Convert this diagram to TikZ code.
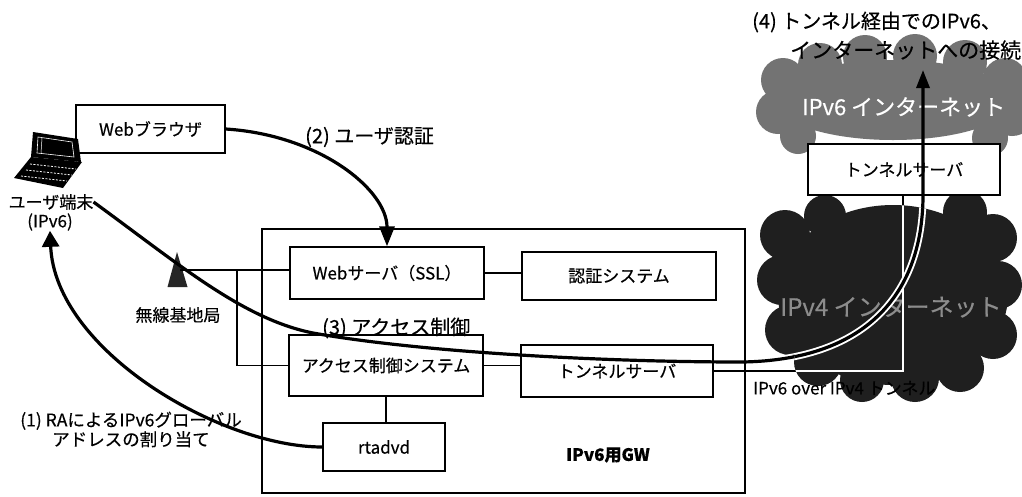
\documentclass[tikz,border=0pt]{standalone}
\usepackage{fontspec}
\setmainfont{Noto Sans CJK JP}[FakeBold=0.4]
\usetikzlibrary{arrows.meta}
\newcommand\bxfont{\fontsize{17}{20}\selectfont}
\newcommand\lbfont{\fontsize{20}{23}\selectfont}
% cloud outlines (unions of circles)
\newcommand\cloudsix{(893,100) ellipse [x radius=120pt, y radius=40pt]
  (783,80) circle[radius=22pt] (778,112) circle[radius=22pt] (798,136) circle[radius=18pt]
  (820,65) circle[radius=22pt] (865,57) circle[radius=22pt] (915,56) circle[radius=22pt]
  (965,62) circle[radius=22pt] (1005,80) circle[radius=22pt] (1012,112) circle[radius=24pt]
  (990,138) circle[radius=18pt]}
\newcommand\cloudfour{(893,295) ellipse [x radius=115pt, y radius=90pt]
  (785,235) circle[radius=25pt] (782,280) circle[radius=25pt] (790,330) circle[radius=25pt]
  (818,362) circle[radius=24pt] (862,380) circle[radius=22pt] (915,378) circle[radius=24pt]
  (960,368) circle[radius=24pt] (993,335) circle[radius=24pt] (998,285) circle[radius=24pt]
  (993,238) circle[radius=24pt] (965,212) circle[radius=22pt] (825,216) circle[radius=21pt]}
\begin{document}
\begin{tikzpicture}[x=1pt,y=-1pt,
  every node/.style={inner sep=1pt},
  box/.style={draw, line width=1.3pt, fill=white, font=\bxfont, inner sep=0pt},
  wire/.style={line width=1.3pt},
  flow/.style={line width=3.2pt},
  lbl/.style={font=\lbfont, inner sep=0pt},
  txt/.style={font=\bxfont, inner sep=0pt}]
\useasboundingbox (0,0) rectangle (1022,496);
\fill[white] (0,0) rectangle (1022,496);

% clouds
\fill[black!55] \cloudsix;
\fill[black!88] \cloudfour;
\node[font=\fontsize{22}{25}\selectfont, text=white, anchor=west, inner sep=0pt] (inet6) at (802,107) {IPv6 インターネット};
\node[font=\fontsize{24}{27}\selectfont, text=black!45, anchor=west, inner sep=0pt] (inet4) at (780,307) {IPv4 インターネット};

% gateway frame
\node[draw, line width=1.3pt, minimum width=483pt, minimum height=264pt, inner sep=0pt] (gw) at (503.5,361) {};
\node[font=\bxfont\bfseries, inner sep=0pt] (gwname) at (608,455) {IPv6用GW};

% boxes
\node[box, minimum width=149pt, minimum height=48pt] (browser) at (150.5,129) {Webブラウザ};
\node[box, minimum width=194pt, minimum height=52pt] (web) at (387,273) {Webサーバ（SSL）};
\node[box, minimum width=194pt, minimum height=48pt] (auth) at (619,276) {認証システム};
\node[box, minimum width=194pt, minimum height=61pt] (acc) at (386,365.5) {アクセス制御システム};
\node[box, minimum width=192pt, minimum height=52pt] (tun) at (617,371) {トンネルサーバ};
\node[box, minimum width=122pt, minimum height=48pt] (rtadvd) at (384,447) {rtadvd};
\node[box, minimum width=192pt, minimum height=51pt] (tun2) at (904,169.5) {トンネルサーバ};

% user terminal
\fill[black] (33,132) -- (78,139) -- (81,162) -- (31,157) -- cycle;
\fill[black] (31,157) -- (82,162) -- (63,188) -- (14,178) -- cycle;
\draw[white, line width=0.6pt] (38,137) -- (72,142) -- (74,157) -- (37,153) -- cycle;
\draw[white, line width=0.5pt] (42,138) -- (41,153);
\draw[white, line width=0.8pt, dash pattern=on 2pt off 1.5pt] (30,164) -- (76,169) (26,170) -- (72,175) (21,176) -- (67,181);
\node[txt] (userA) at (51,202) {ユーザ端末};
\node[txt] (userB) at (50,222) {(IPv6)};

% base station
\fill[black!85] (177,252) -- (187.5,287) -- (167.5,287) -- cycle;
\coordinate (ant) at (180,270);
\coordinate (br) at (237,270);
\node[txt] (bs) at (178,315) {無線基地局};

% wiring
\draw[wire] (ant) -- (ant -| web.west);
\draw[wire] (br) |- (acc.west);
\draw[wire] (web.east) -- (web.east -| auth.west);
\draw[wire] (acc.east) -- (acc.east -| tun.west);
\draw[wire] (acc.south) -- (acc.south |- rtadvd.north);
\coordinate (tk) at (903,195);
\draw[wire] (tun.east) -| (tk);
\node[txt, anchor=west] (tunlbl) at (753,388) {IPv6 over IPv4 トンネル};

% flows
\coordinate (net6) at (923,70);
\draw[flow, -{Triangle[length=16pt,width=17pt]}] (rtadvd.west) .. controls (220,447) and (55,350) .. (userB.south);
\draw[flow, -{Triangle[length=20pt,width=15pt]}] (browser.east) .. controls (320,135) and (387,190) .. (web.north);
\newcommand\accesspath{(userA.east) .. controls (180,265) and (243,319) .. (313,333)
  .. controls (420,352) and (600,362) .. (742,362)
  .. controls (870,360) and (923,290) .. (923,195) -- (net6)}
\draw[flow, -{Triangle[length=18pt,width=13pt]}] \accesspath;
\begin{scope}
  \clip \cloudfour;
  \draw[white, line width=1.3pt] (tun.east) -| (tk);
  \draw[white, line width=7pt] \accesspath;
  \draw[flow] \accesspath;
\end{scope}

% step labels
\node[lbl, anchor=west] (s2) at (305,137) {(2) ユーザ認証};
\node[lbl, anchor=west] (s3) at (322,328) {(3) アクセス制御};
\node[font=\fontsize{17.5}{19.5}\selectfont, align=center, inner sep=0pt] (s1) at (131,429.5) {(1) RAによるIPv6グローバル\\アドレスの割り当て};
\node[lbl, anchor=west] (s4a) at (752,22) {(4) トンネル経由でのIPv6、};
\node[font=\fontsize{21}{24}\selectfont, anchor=west, inner sep=0pt] (s4b) at (790,50) {インターネットへの接続};
\end{tikzpicture}
\end{document}
